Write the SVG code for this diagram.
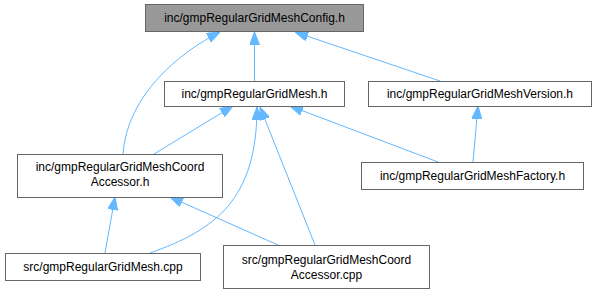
<svg xmlns="http://www.w3.org/2000/svg" width="596" height="293" viewBox="0 0 596 293">
<style>
.n rect{fill:#ffffff;stroke:#666666;stroke-width:1}
.n text{font-family:"Liberation Sans",Arial,sans-serif;font-size:12px;fill:#000000;text-anchor:middle}
#n1 rect{fill:#999999}
.e path{fill:none;stroke:#63b8ff;stroke-width:1;marker-end:url(#ah)}
</style>
<defs>
<marker id="ah" markerUnits="userSpaceOnUse" viewBox="0 0 13 10" refX="13" refY="5" markerWidth="13" markerHeight="10" orient="auto">
<path d="M0,0 L13,5 L0,10 Z" fill="#63b8ff" stroke="#63b8ff" stroke-width="1"/>
</marker>
</defs>
<rect width="596" height="293" fill="#ffffff"/>
<g id="edges" class="e">
<path d="M254.5,81 L254.5,32"/>
<path d="M440,81 L295,32"/>
<path d="M123,154 C127,95 180,52 220,32"/>
<path d="M154,154 L233,106"/>
<path d="M438,162 L290,106"/>
<path d="M150,253 C215,230 257,200 257,107"/>
<path d="M315,245 L260,107"/>
<path d="M473,162 L478,106"/>
<path d="M105,253 L115,197"/>
<path d="M278,245 L170,197"/>
</g>
<g id="n1" class="n"><rect x="145.5" y="4.5" width="218" height="27"/><text x="254.5" y="22">inc/gmpRegularGridMeshConfig.h</text></g>
<g id="n2" class="n"><rect x="164.5" y="81.5" width="180" height="25"/><text x="254.5" y="98">inc/gmpRegularGridMesh.h</text></g>
<g id="n3" class="n"><rect x="368.5" y="81.5" width="223" height="25"/><text x="480" y="98">inc/gmpRegularGridMeshVersion.h</text></g>
<g id="n4" class="n"><rect x="17.5" y="154.5" width="205" height="43"/><text x="120" y="171">inc/gmpRegularGridMeshCoord</text><text x="120" y="186">Accessor.h</text></g>
<g id="n5" class="n"><rect x="361.5" y="162.5" width="222" height="27"/><text x="472.5" y="180">inc/gmpRegularGridMeshFactory.h</text></g>
<g id="n6" class="n"><rect x="5.5" y="253.5" width="195" height="27"/><text x="103" y="271">src/gmpRegularGridMesh.cpp</text></g>
<g id="n7" class="n"><rect x="223.5" y="245.5" width="206" height="43"/><text x="326.5" y="264">src/gmpRegularGridMeshCoord</text><text x="326.5" y="279">Accessor.cpp</text></g>
</svg>
